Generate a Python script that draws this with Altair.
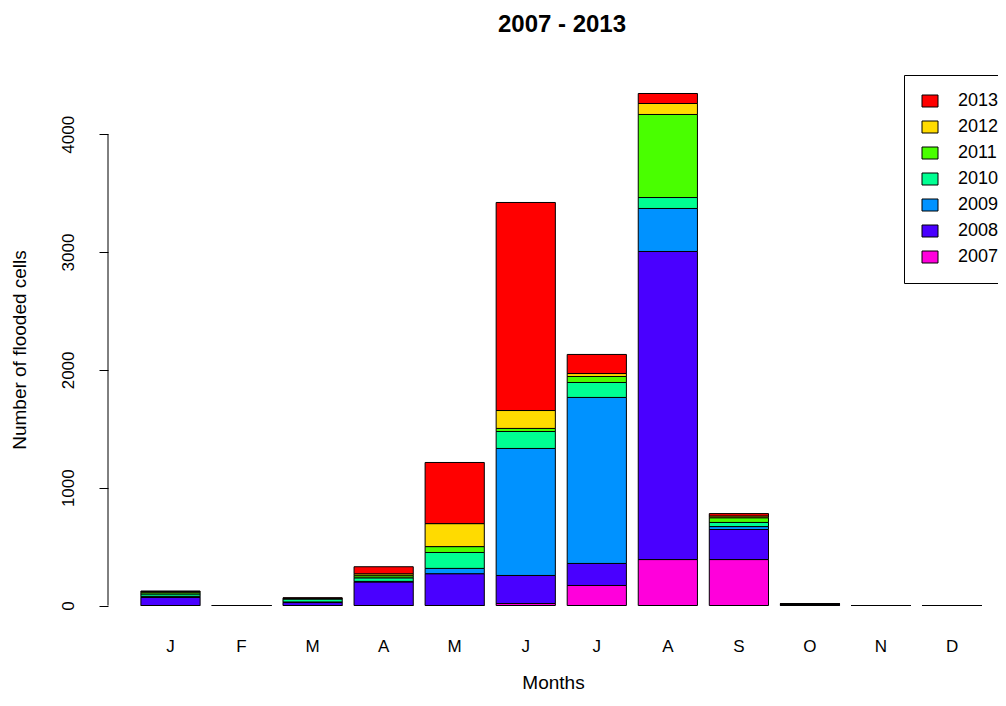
import altair as alt
import pandas as pd

month_keys = ["Jan", "Feb", "Mar", "Apr", "May", "Jun", "Jul", "Aug", "Sep", "Oct", "Nov", "Dec"]
years = ["2007", "2008", "2009", "2010", "2011", "2012", "2013"]
colors = ["#FF00DB", "#4900FF", "#0092FF", "#00FF92", "#49FF00", "#FFDB00", "#FF0000"]

v2007 = [0, 0, 0, 0, 0, 17, 170, 390, 390, 0, 0, 0]
v2008 = [68, 0, 25, 200, 270, 238, 187, 2615, 255, 8, 0, 0]
v2009 = [10, 0, 5, 5, 45, 1078, 1409, 365, 25, 3, 0, 0]
v2010 = [20, 0, 25, 30, 135, 144, 127, 93, 35, 2, 0, 0]
v2011 = [15, 0, 5, 18, 50, 26, 51, 705, 40, 1, 0, 0]
v2012 = [5, 0, 2, 16, 195, 152, 25, 93, 15, 1, 0, 0]
v2013 = [5, 0, 3, 60, 519, 1766, 162, 85, 20, 1, 0, 0]
y_ticks = [0, 1000, 2000, 3000, 4000]

series = [v2007, v2008, v2009, v2010, v2011, v2012, v2013]
rows = []
for yr, vals in zip(years, series):
    for m, v in zip(month_keys, vals):
        rows.append({"month": m, "year": yr, "value": v})
df = pd.DataFrame(rows)

FONT = "Liberation Sans"

bars = alt.Chart(df).mark_bar(stroke="black", strokeWidth=1, opacity=1).encode(
    x=alt.X(
        "month:N",
        sort=month_keys,
        scale=alt.Scale(paddingInner=0.2 / 1.2, paddingOuter=0.3466, align=0.668),
        axis=alt.Axis(
            title="Months",
            labelExpr="substring(datum.label, 0, 1)",
            domain=False,
            ticks=False,
            labelAngle=0,
            labelPadding=12,
            titlePadding=19,
            labelFontSize=17,
            titleFontSize=19,
            labelFont=FONT,
            titleFont=FONT,
            labelColor="black",
            titleColor="black",
            titleFontWeight="normal",
        ),
    ),
    y=alt.Y(
        "value:Q",
        stack="zero",
        scale=alt.Scale(domain=[-174, 4520], nice=False, zero=False),
        axis=alt.Axis(
            title="Number of flooded cells",
            values=y_ticks,
            format="d",
            domain=False,
            grid=False,
            tickSize=9,
            tickColor="black",
            labelAngle=270,
            labelPadding=22,
            labelFontSize=17,
            titleFontSize=19,
            labelFont=FONT,
            titleFont=FONT,
            labelColor="black",
            titleColor="black",
            titleFontWeight="normal",
            titlePadding=30,
        ),
    ),
    color=alt.Color(
        "year:N",
        scale=alt.Scale(domain=years[::-1], range=colors[::-1]),
        legend=alt.Legend(
            title=None,
            orient="none",
            legendX=796,
            legendY=2,
            strokeColor="black",
            fillColor="white",
            padding=17,
            symbolType="M-1,-0.75L1,-0.75L1,0.75L-1,0.75Z",
            symbolSize=256,
            symbolStrokeColor="black",
            symbolStrokeWidth=1,
            symbolOpacity=1,
            labelFontSize=18,
            labelFont=FONT,
            labelColor="black",
            labelOffset=19,
            rowPadding=8,
        ),
    ),
    order=alt.Order("year:N", sort="ascending"),
)

axis_line = alt.Chart(pd.DataFrame({"value": [min(y_ticks)], "value2": [max(y_ticks)]})).mark_rule(
    color="black", strokeWidth=1
).encode(
    y=alt.Y("value:Q"),
    y2="value2:Q",
    x=alt.value(0),
)

chart = alt.layer(bars, axis_line).properties(
    width=890,
    height=553,
    title=alt.TitleParams(
        "2007 - 2013",
        font=FONT,
        fontSize=24,
        fontWeight="bold",
        color="black",
        anchor="middle",
        dx=9,
        offset=36,
    ),
    autosize=alt.AutoSizeParams(type="none"),
    padding={"left": 100, "top": 65, "right": 0, "bottom": 68},
).configure_view(stroke=None)

chart.save("out.html", embed_options={"renderer": "svg", "actions": False})
